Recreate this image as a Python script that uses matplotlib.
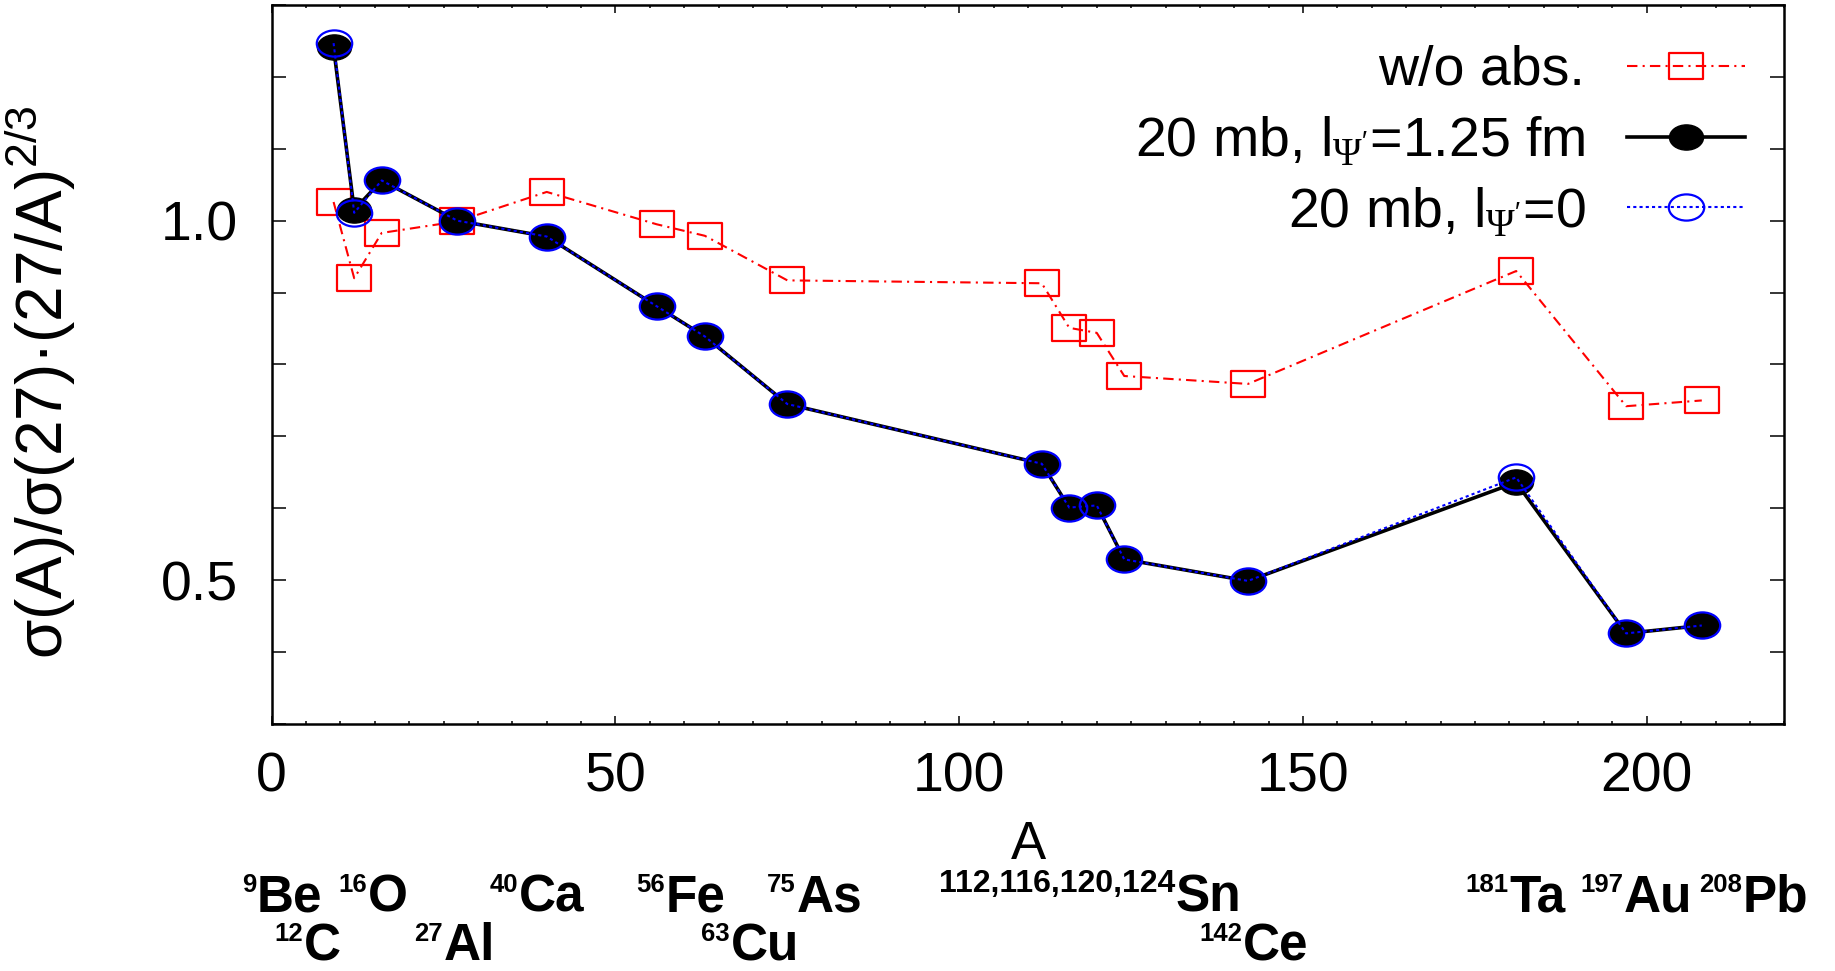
import numpy as np
import matplotlib
matplotlib.use("Agg")
import matplotlib.pyplot as plt
from matplotlib.path import Path
from matplotlib.ticker import MultipleLocator

plt.rcParams["font.family"] = ["Liberation Sans", "DejaVu Sans"]
plt.rcParams["mathtext.fontset"] = "custom"
plt.rcParams["mathtext.rm"] = "Liberation Sans"
plt.rcParams["mathtext.bf"] = "Liberation Sans:bold"
plt.rcParams["mathtext.cal"] = "Liberation Serif"

# mass numbers of the targets
A = [9, 12, 16, 27, 40, 56, 63, 75, 112, 116, 120, 124, 142, 181, 197, 208]

# sigma(A)/sigma(27) * (27/A)^(2/3)
no_abs = [1.026, 0.920, 0.983, 0.999, 1.040, 0.995, 0.979, 0.917,
          0.913, 0.851, 0.844, 0.784, 0.773, 0.930, 0.742, 0.750]
abs_l125 = [1.241, 1.015, 1.056, 1.000, 0.978, 0.881, 0.839, 0.745,
            0.662, 0.601, 0.604, 0.529, 0.499, 0.636, 0.426, 0.437]
abs_l0 = [1.247, 1.011, 1.056, 1.000, 0.978, 0.881, 0.839, 0.745,
          0.662, 0.601, 0.604, 0.529, 0.499, 0.643, 0.426, 0.437]

series_labels = [
    "w/o abs.",
    r"20 mb, l$_{\mathcal{\Psi}'}$=1.25 fm",
    r"20 mb, l$_{\mathcal{\Psi}'}$=0",
]

# nucleus labels under the axis: mass number, symbol
nuc_mass = ["9", "16", "40", "56", "75", "112,116,120,124", "181", "197", "208",
            "12", "27", "63", "142"]
nuc_sym = ["Be", "O", "Ca", "Fe", "As", "Sn", "Ta", "Au", "Pb",
           "C", "Al", "Cu", "Ce"]
# where each symbol starts (pixels), which row, superscript size
nuc_x = [257, 368, 519, 666, 797, 1176, 1509, 1624, 1743, 304, 444, 731, 1243]
nuc_row = [0, 0, 0, 0, 0, 0, 0, 0, 0, 1, 1, 1, 1]
sup_size = [18.5, 18.5, 18.5, 18.5, 18.5, 23, 18.5, 18.5, 18.5, 18.5, 18.5, 18.5, 18.5]

W, H = 1835, 971

circ = Path.unit_circle()
ellipse = Path(circ.vertices * [1.0, 0.74], circ.codes)
rect = Path([(-1, -0.76), (1, -0.76), (1, 0.76), (-1, 0.76), (-1, -0.76)],
            [Path.MOVETO, Path.LINETO, Path.LINETO, Path.LINETO, Path.CLOSEPOLY])

fig = plt.figure(figsize=(W / 100, H / 100), dpi=100)
ax = fig.add_axes([271.7 / W, 1 - 724 / H, (1784.3 - 271.7) / W, (724 - 5) / H])

ax.plot(A, no_abs, color="red", lw=1.5, ls=(0, (5, 2.5, 1, 2.5)),
        marker=rect, ms=24, mfc="none", mec="red", mew=1.6,
        label=series_labels[0])
ax.plot(A, abs_l125, color="black", lw=2.6, ls="-",
        marker=ellipse, ms=24.5, mfc="black", mec="black", mew=1,
        label=series_labels[1])
ax.plot(A, abs_l0, color="blue", lw=1.5, ls=(0, (1.5, 1.5)),
        marker=ellipse, ms=25.5, mfc="none", mec="blue", mew=1.6,
        label=series_labels[2])

ax.set_xlim(0, 220)
ax.set_ylim(0.3, 1.3)
ax.xaxis.set_major_locator(MultipleLocator(50))
ax.xaxis.set_minor_locator(MultipleLocator(5))
ax.yaxis.set_major_locator(MultipleLocator(0.5))
ax.yaxis.set_minor_locator(MultipleLocator(0.1))
ax.yaxis.set_major_formatter(plt.FormatStrFormatter("%.1f"))
ax.tick_params(which="both", direction="in", top=True, right=True, width=1.1)
ax.tick_params(axis="x", which="major", length=6, labelsize=40, pad=20)
ax.tick_params(axis="x", which="minor", length=2.5)
ax.tick_params(axis="y", which="both", length=10)
ax.tick_params(axis="y", which="major", labelsize=40, pad=24)
for s in ax.spines.values():
    s.set_linewidth(1.8)

ax.set_xlabel("A", fontsize=38, labelpad=12)
ax.set_ylabel(r"σ(A)/σ(27)·(27/A)$^{2/3}$", fontsize=46)
ax.yaxis.set_label_coords(-0.128, 0.475)

leg = ax.legend(loc="upper right", bbox_to_anchor=(0.989, 0.975), frameon=False,
                markerfirst=False, fontsize=40, handlelength=2.14,
                handletextpad=0.74, labelspacing=0.32, borderaxespad=0)

# nucleus labels
for mass, sym, x, row, ss in zip(nuc_mass, nuc_sym, nuc_x, nuc_row, sup_size):
    base = 911 if row == 0 else 960
    fig.text(x / W, 1 - base / H, sym, ha="left", va="baseline",
             fontsize=37, fontweight="bold")
    fig.text((x - 1) / W, 1 - (base - 19) / H, mass, ha="right", va="baseline",
             fontsize=ss, fontweight="bold")

fig.savefig("out.png", dpi=100)
